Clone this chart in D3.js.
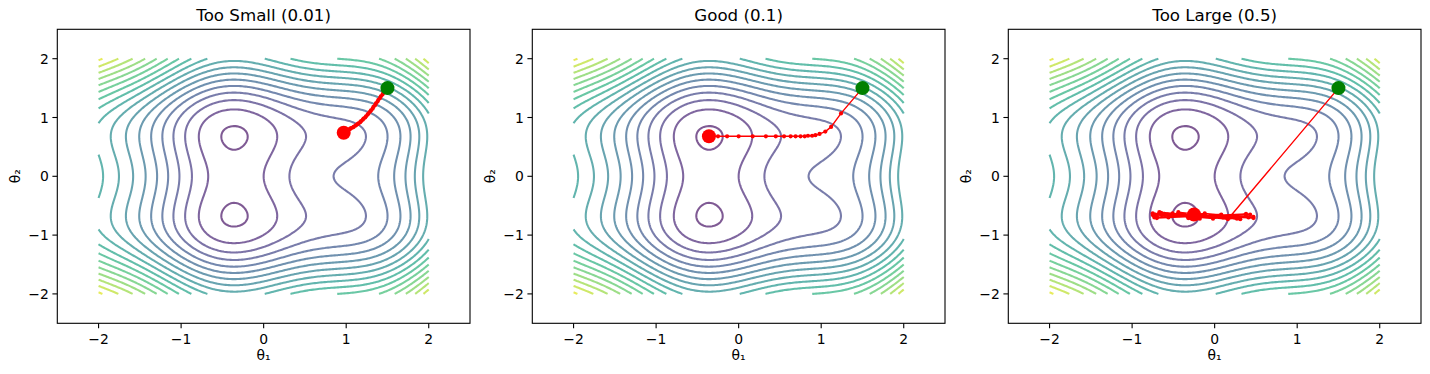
<!DOCTYPE html>
<html>
<head>
<meta charset="utf-8">
<script src="https://d3js.org/d3.v7.min.js"></script>
<style>
  body { margin: 0; background: #fff; }
  text { font-family: "DejaVu Sans", sans-serif; fill: #000; }
</style>
</head>
<body>
<script>
// panel titles / learning rates
var titles = ["Too Small (0.01)", "Good (0.1)", "Too Large (0.5)"];
var rates = [0.01, 0.1, 0.5];
var ticks = [-2, -1, 0, 1, 2];
var levels = [0, 0.5, 1, 1.5, 2, 2.5, 3, 3.5, 4, 4.5, 5, 5.5, 6, 6.5, 7, 7.5, 8, 8.5];

// loss surface drawn as contours
function loss(x, y) {
  return x * x + y * y + 0.5 * Math.sin(3 * x) + 0.5 * Math.cos(3 * y);
}

// descent paths
var pathSmall = [[1.50,1.50],[1.48,1.47],[1.47,1.45],[1.45,1.42],[1.44,1.39],[1.42,1.36],[1.41,1.33],
  [1.39,1.30],[1.38,1.27],[1.36,1.24],[1.35,1.21],[1.33,1.18],[1.32,1.15],[1.30,1.12],[1.29,1.10],
  [1.27,1.07],[1.26,1.05],[1.24,1.02],[1.23,1.00],[1.21,0.98],[1.20,0.96],[1.18,0.94],[1.17,0.92],
  [1.15,0.90],[1.14,0.89],[1.12,0.87],[1.11,0.86],[1.09,0.84],[1.08,0.83],[1.06,0.82],[1.05,0.81],
  [1.04,0.80],[1.03,0.79],[1.01,0.78],[1.00,0.77],[0.99,0.76],[0.98,0.75],[0.97,0.74]];
var pathGood = [[1.50,1.50],[1.24,1.07],[1.12,0.84],[1.05,0.76],[0.98,0.72],[0.93,0.70],[0.89,0.69],
  [0.84,0.69],[0.80,0.68],[0.75,0.68],[0.69,0.68],[0.63,0.68],[0.55,0.68],[0.45,0.68],[0.33,0.68],
  [0.17,0.68],[0.00,0.68],[-0.14,0.68],[-0.25,0.68],[-0.31,0.68],[-0.34,0.68],[-0.35,0.68],[-0.36,0.68]];
var pathLarge = [[1.50,1.50],[0.16,-0.73],[-0.67,-0.61],[0.31,-0.73],[-0.44,-0.61],[-0.18,-0.72],
  [-0.65,-0.62],[0.27,-0.72],[-0.51,-0.63],[-0.02,-0.72],[-0.75,-0.63],[0.47,-0.71],[-0.12,-0.63],
  [-0.70,-0.71],[0.38,-0.64],[-0.32,-0.71],[-0.43,-0.64],[-0.21,-0.71],[-0.61,-0.64],[0.19,-0.70],
  [-0.63,-0.64],[0.24,-0.70],[-0.57,-0.65],[0.10,-0.70],[-0.72,-0.65],[0.41,-0.70],[-0.24,-0.65],
  [-0.56,-0.70],[0.08,-0.65],[-0.73,-0.70],[0.43,-0.65],[-0.20,-0.69],[-0.62,-0.65],[0.21,-0.69],
  [-0.60,-0.66],[0.18,-0.69],[-0.64,-0.66],[0.26,-0.69],[-0.53,-0.66],[0.01,-0.69],[-0.75,-0.66],
  [0.47,-0.69],[-0.12,-0.66],[-0.70,-0.69],[0.38,-0.66],[-0.32,-0.69],[-0.43,-0.66],[-0.25,-0.65]];
var paths = [pathSmall, pathGood, pathLarge];

var W = 1430, H = 374;
var lefts = [57.3, 532.3, 1008.3];
var aw = 412.7, axTop = 29.3, axBottom = 323.3;

var svg = d3.select("body").append("svg").attr("width", W).attr("height", H);

// grid for the contours
var n = 201;
var vals = new Array(n * n);
for (var j = 0; j < n; j++)
  for (var i = 0; i < n; i++)
    vals[j * n + i] = loss(-2 + 4 * i / (n - 1), -2 + 4 * j / (n - 1));
var contours = d3.contours().size([n, n]).thresholds(levels)(vals);
var color = d3.scaleSequential(d3.interpolateViridis).domain([-0.5, 9]);

// turn polygon rings into open lines, dropping the bits along the grid border
function ringLines(rings) {
  var out = [];
  var onEdge = function(p) { return p[0] === 0 || p[0] === n || p[1] === 0 || p[1] === n; };
  rings.forEach(function(ring) {
    var cur = [];
    for (var k = 0; k < ring.length; k++) {
      var p = ring[k];
      if (onEdge(p)) {
        if (cur.length > 1) out.push(cur);
        cur = [];
      } else {
        cur.push(p);
      }
    }
    if (cur.length > 1) out.push(cur);
  });
  return out;
}
var gridToData = function(c) { return -2 + (c - 0.5) * 4 / (n - 1); };

var minus = function(v) { return String(v).replace("-", "\u2212"); };

titles.forEach(function(title, pi) {
  var L = lefts[pi];
  var x = d3.scaleLinear().domain([-2.5, 2.5]).range([L, L + aw]);
  var y = d3.scaleLinear().domain([-2.5, 2.5]).range([axBottom, axTop]);
  var g = svg.append("g");

  var line = d3.line()
    .x(function(p) { return x(gridToData(p[0])); })
    .y(function(p) { return y(gridToData(p[1])); });

  contours.forEach(function(c) {
    var lines = [];
    c.coordinates.forEach(function(poly) { lines = lines.concat(ringLines(poly)); });
    var d = lines.map(function(l) { return line(l); }).join("");
    if (!d) return;
    g.append("path")
      .attr("d", d)
      .attr("fill", "none")
      .attr("stroke", color(c.value))
      .attr("stroke-opacity", 0.7)
      .attr("stroke-width", 2.08);
  });

  // descent path
  var pts = paths[pi];
  var pl = d3.line().x(function(p) { return x(p[0]); }).y(function(p) { return y(p[1]); });
  g.append("path").attr("d", pl(pts)).attr("fill", "none")
    .attr("stroke", "#ff0000").attr("stroke-width", 1.39);
  g.selectAll(".pt").data(pts).enter().append("circle")
    .attr("cx", function(p) { return x(p[0]); })
    .attr("cy", function(p) { return y(p[1]); })
    .attr("r", 2.1).attr("fill", "#ff0000");
  g.append("circle").attr("cx", x(pts[0][0])).attr("cy", y(pts[0][1]))
    .attr("r", 7).attr("fill", "#008000");
  var last = pts[pts.length - 1];
  g.append("circle").attr("cx", x(last[0])).attr("cy", y(last[1]))
    .attr("r", 7).attr("fill", "#ff0000");

  // frame
  g.append("rect").attr("x", L).attr("y", axTop).attr("width", aw).attr("height", axBottom - axTop)
    .attr("fill", "none").attr("stroke", "#000").attr("stroke-width", 1.1);

  // ticks
  ticks.forEach(function(t) {
    g.append("line").attr("x1", x(t)).attr("x2", x(t)).attr("y1", axBottom).attr("y2", axBottom + 4.9)
      .attr("stroke", "#000").attr("stroke-width", 1.1);
    g.append("text").attr("x", x(t)).attr("y", 344).attr("text-anchor", "middle")
      .attr("font-size", "13.9px").text(minus(t));
    g.append("line").attr("x1", L - 4.9).attr("x2", L).attr("y1", y(t)).attr("y2", y(t))
      .attr("stroke", "#000").attr("stroke-width", 1.1);
    g.append("text").attr("x", L - 8.5).attr("y", y(t) + 5).attr("text-anchor", "end")
      .attr("font-size", "13.9px").text(minus(t));
  });

  g.append("text").attr("x", L + aw / 2).attr("y", 21).attr("text-anchor", "middle")
    .attr("font-size", "16.67px").text(title);
  g.append("text").attr("x", L + aw / 2).attr("y", 360).attr("text-anchor", "middle")
    .attr("font-size", "13.9px").text("\u03b8\u2081");
  g.append("text").attr("transform", "translate(" + (L - 37.5) + "," + y(0) + ") rotate(-90)")
    .attr("text-anchor", "middle").attr("font-size", "13.9px").text("\u03b8\u2082");
});
</script>
</body>
</html>
